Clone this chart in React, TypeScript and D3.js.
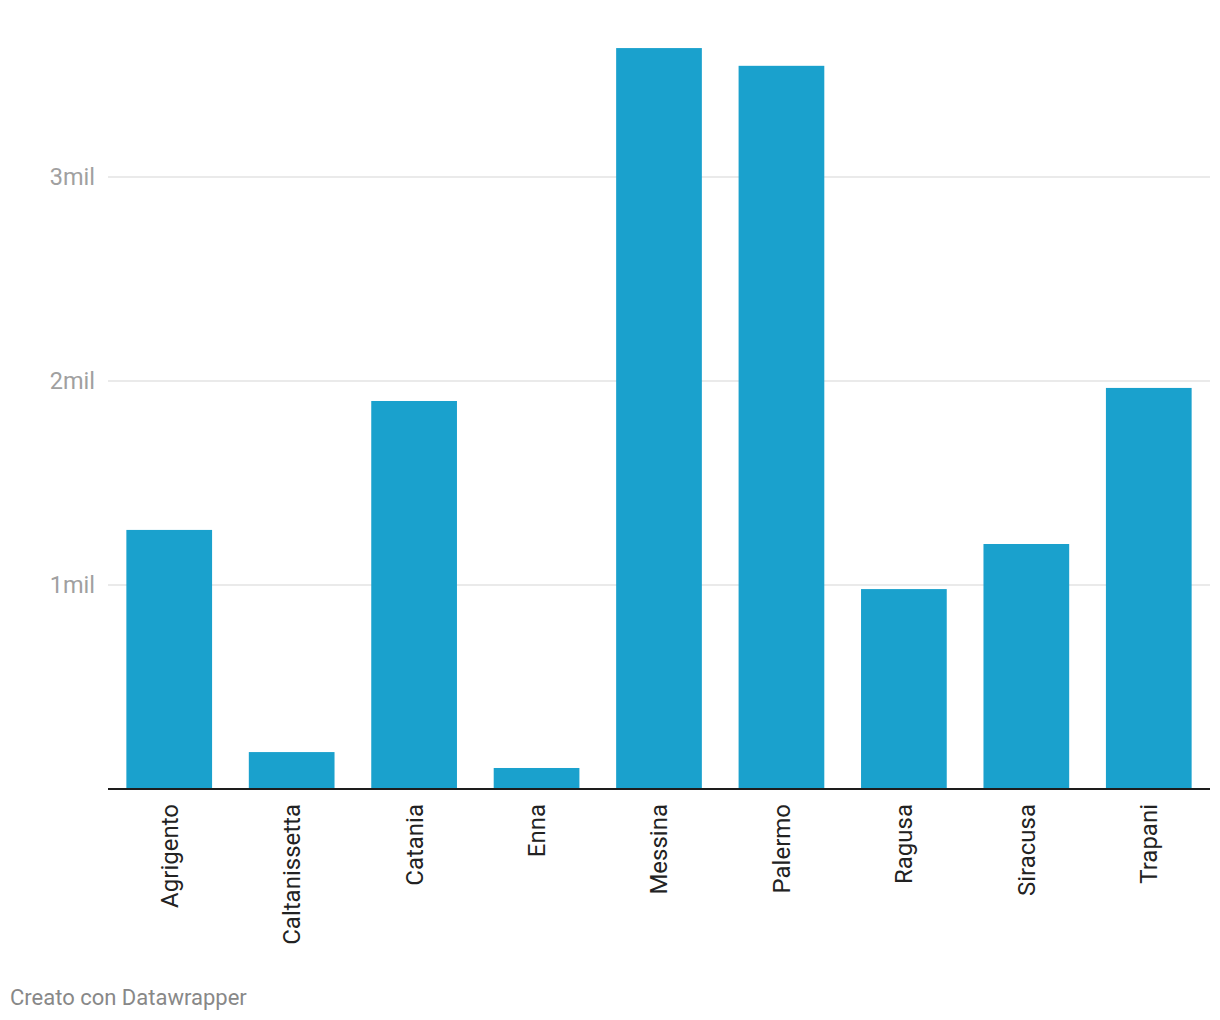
import React from "react";
import * as d3 from "d3";

const categories = ["Agrigento", "Caltanissetta", "Catania", "Enna", "Messina", "Palermo", "Ragusa", "Siracusa", "Trapani"];
const values = [1.27, 0.181, 1.902, 0.103, 3.632, 3.545, 0.98, 1.201, 1.966];
const yTicks = [1, 2, 3];
const tickLabel = (v: number) => `${v}mil`;

const W = 1220;
const H = 1020;
const left = 108;
const right = 1210;
const y0 = 789;
const pxPerUnit = 204;

export default function App() {
  const x = d3.scaleBand<string>().domain(categories).range([left, right]).paddingInner(0.3).paddingOuter(0.15);
  const y = d3.scaleLinear().domain([0, 1]).range([y0, y0 - pxPerUnit]);
  const font = "Roboto, 'Noto Sans', sans-serif";
  return (
    <svg width={W} height={H} style={{ position: "absolute", left: 0, top: 0 }}>
      <rect width={W} height={H} fill="#fff" />
      {yTicks.map((t) => (
        <g key={t}>
          <line x1={left} x2={right} y1={y(t)} y2={y(t)} stroke="#e3e3e3" strokeWidth={1.5} />
          <text x={95} y={y(t)} dy="0.35em" textAnchor="end" fontFamily={font} fontSize={23.5} fill="#a0a0a0">
            {tickLabel(t)}
          </text>
        </g>
      ))}
      {categories.map((c, i) => (
        <rect key={c} x={x(c)} width={x.bandwidth()} y={y(values[i])} height={y(0) - y(values[i])} fill="#1aa1cd" />
      ))}
      <line x1={left} x2={right} y1={y0} y2={y0} stroke="#1d1d1d" strokeWidth={2} />
      {categories.map((c) => (
        <text
          key={c}
          transform={`translate(${(x(c) as number) + x.bandwidth() / 2},${y0 + 15}) rotate(-90)`}
          textAnchor="end"
          dy="0.35em"
          fontFamily={font}
          fontSize={24}
          fill="#222"
        >
          {c}
        </text>
      ))}
      <text x={10} y={1005} fontFamily={font} fontSize={22} fill="#888">
        Creato con Datawrapper
      </text>
    </svg>
  );
}
